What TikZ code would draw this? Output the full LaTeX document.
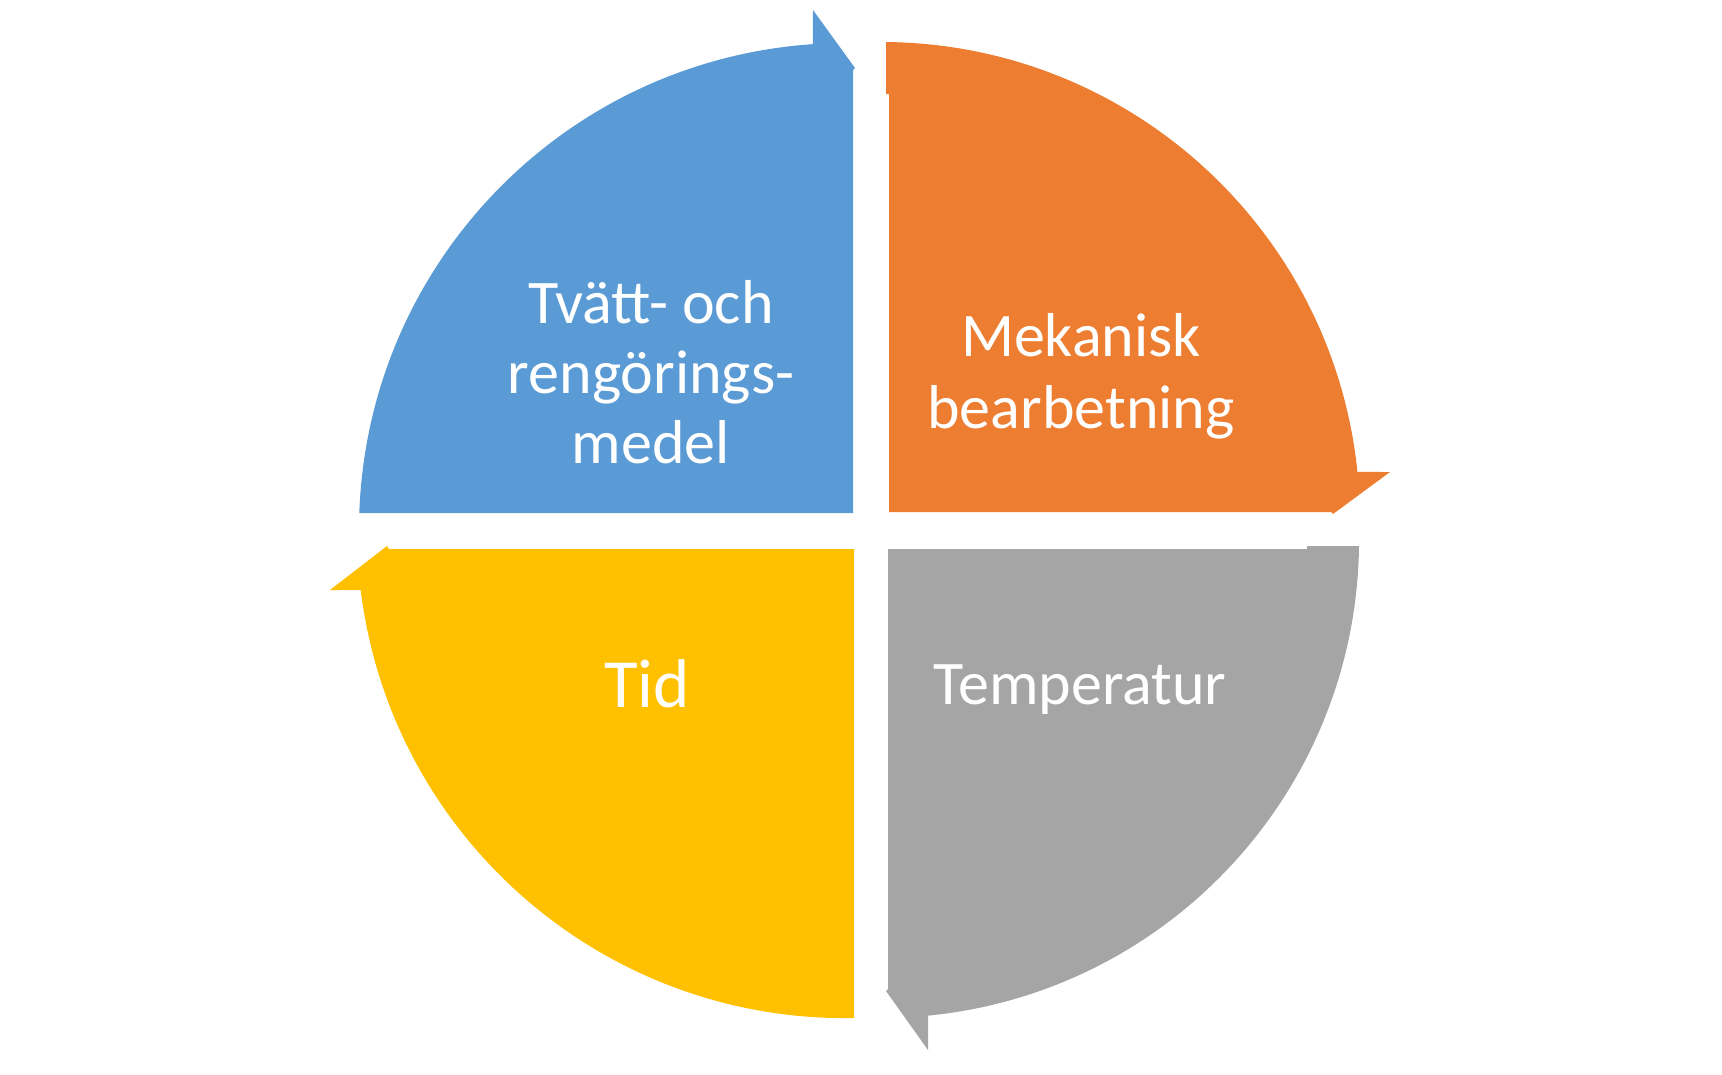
\documentclass[tikz,border=0pt]{standalone}
\usepackage{fontspec}
\setmainfont{Carlito}
\definecolor{cblue}{HTML}{5B9BD5}
\definecolor{corange}{HTML}{ED7D31}
\definecolor{cgray}{HTML}{A5A5A5}
\definecolor{cyellow}{HTML}{FFC000}
\begin{document}
\begin{tikzpicture}[x=1pt,y=1pt,
  lbl/.style={text=white, align=center, inner sep=0pt, anchor=base}]
\useasboundingbox (0,0) rectangle (1722,-1074);
% blue piece
\fill[cblue] (359.3,-513) arc[start angle=178, end angle=93.9, radius=487]
  -- (813,-10) -- (855,-68) -- (853,-70) -- (853,-513) -- cycle;
% orange piece
\fill[corange] (889,-512) -- (889,-94) -- (886,-94) -- (886,-42)
  arc[start angle=89.4, end angle=5.87, radius=479]
  -- (1390,-472) -- (1333,-514) -- (1331,-512) -- cycle;
% gray piece
\fill[cgray] (888,-549) -- (1307,-549) -- (1307,-546) -- (1359,-546)
  arc[start angle=-0.72, end angle=-84.36, radius=478]
  -- (928,-1050) -- (886,-991) -- (888,-989) -- cycle;
% yellow piece
\fill[cyellow] (854,-549) -- (854,-1018)
  arc[start angle=-88.94, end angle=-172.94, radius=488]
  -- (330,-590) -- (387,-546) -- (389,-549) -- cycle;
% labels (base anchor = baseline of the last line)
\node[lbl, font=\fontsize{62}{70}\selectfont] (t1) at (651,-463) {Tvätt- och\\rengörings-\\medel};
\node[lbl, font=\fontsize{62}{72}\selectfont] (t2) at (1081,-428) {Mekanisk\\bearbetning};
\node[lbl, font=\fontsize{69}{80}\selectfont] (t3) at (647,-707) {Tid};
\node[lbl, font=\fontsize{62}{70}\selectfont] (t4) at (1080,-704) {Temperatur};
\end{tikzpicture}
\end{document}
